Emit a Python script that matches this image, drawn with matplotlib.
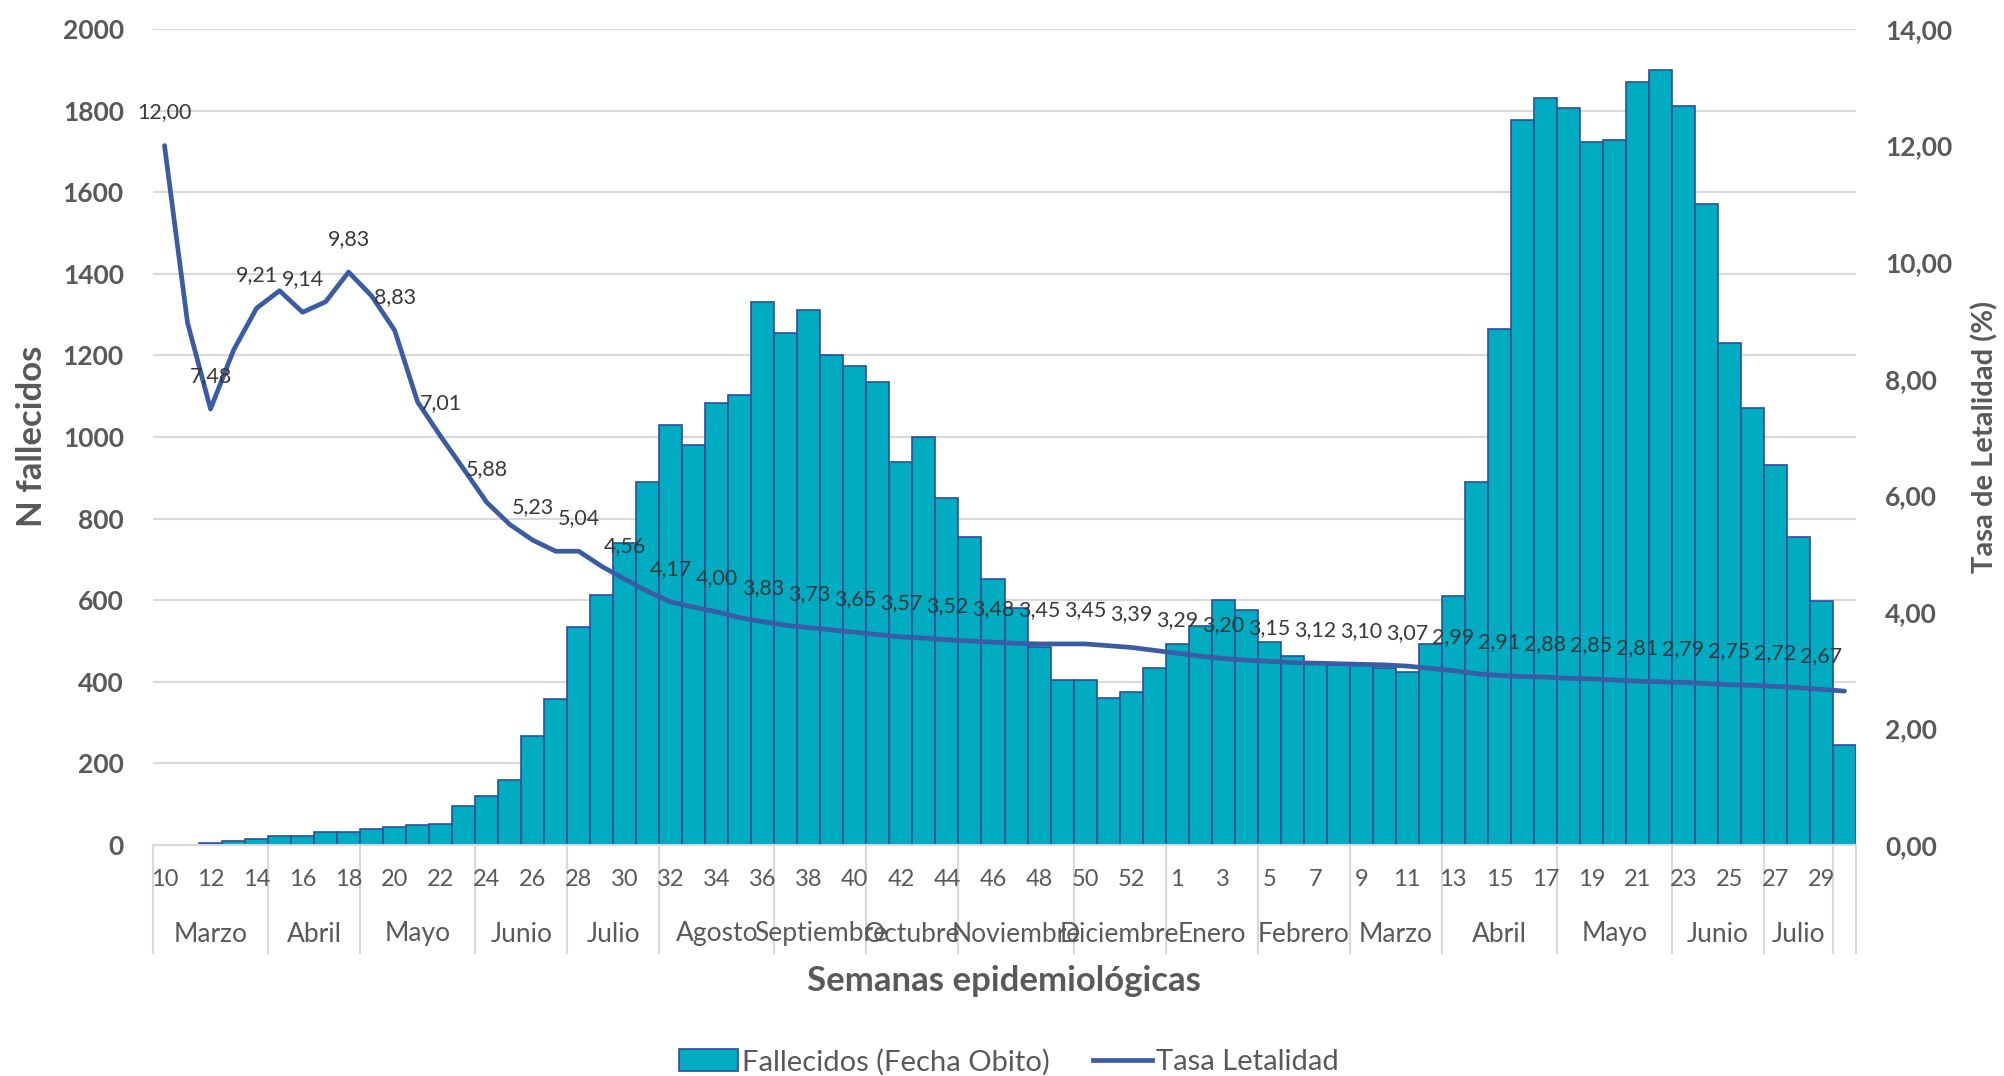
import matplotlib
matplotlib.use("Agg")
import matplotlib.pyplot as plt
from matplotlib.lines import Line2D
from matplotlib.patches import Patch
import numpy as np

plt.rcParams['font.family'] = ['Lato', 'DejaVu Sans']

# ---------------- data ----------------
week_labels = list(range(10, 54)) + list(range(1, 31))

deaths = [0, 0, 4, 9, 14, 23, 23, 32, 32, 38, 43, 48, 52, 96, 121, 160, 267, 359,
          535, 613, 739, 890, 1029, 980, 1083, 1102, 1331, 1255, 1312, 1200, 1175,
          1135, 938, 1000, 850, 755, 653, 580, 486, 404, 404, 361, 375, 434,
          492, 537, 600, 575, 497, 463, 447, 440, 440, 435, 423, 492, 610, 890,
          1264, 1777, 1830, 1806, 1722, 1728, 1870, 1900, 1811, 1571, 1230, 1072,
          931, 755, 598, 246]

rate = [12.00, 8.96, 7.48, 8.49, 9.21, 9.51, 9.14, 9.32, 9.83, 9.42, 8.83, 7.60,
        7.01, 6.45, 5.88, 5.50, 5.23, 5.04, 5.04, 4.78, 4.56, 4.35, 4.17, 4.08,
        4.00, 3.90, 3.83, 3.77, 3.73, 3.69, 3.65, 3.61, 3.57, 3.55, 3.52, 3.50,
        3.48, 3.46, 3.45, 3.45, 3.45, 3.42, 3.39, 3.34,
        3.29, 3.24, 3.20, 3.17, 3.15, 3.13, 3.12, 3.11, 3.10, 3.09, 3.07, 3.03,
        2.99, 2.94, 2.91, 2.89, 2.88, 2.86, 2.85, 2.83, 2.81, 2.80, 2.79, 2.77,
        2.75, 2.74, 2.72, 2.70, 2.67, 2.64]

months = ['Marzo', 'Abril', 'Mayo', 'Junio', 'Julio', 'Agosto', 'Septiembre',
          'Octubre', 'Noviembre', 'Diciembre', 'Enero', 'Febrero', 'Marzo',
          'Abril', 'Mayo', 'Junio', 'Julio', '']
month_weeks = [5, 4, 5, 4, 4, 5, 4, 4, 5, 4, 4, 4, 4, 5, 5, 4, 3, 1]

left_ticks = list(range(0, 2001, 200))
right_ticks = [0, 2, 4, 6, 8, 10, 12, 14]

# ---------------- styling ----------------
W, H = 2004, 1076
BAR = '#00ACC1'
EDGE = '#2F4D9B'
LINE = '#3B5BA5'
GRID = '#D9D9D9'
TXT = '#595959'
LBL = '#383838'

fig = plt.figure(figsize=(W / 100, H / 100), dpi=100)
L, R, T, B = 153, 1856, 29, 845
ax = fig.add_axes([L / W, 1 - B / H, (R - L) / W, (B - T) / H])

n = len(deaths)
x = np.arange(n) + 0.5
ax.bar(x, deaths, width=1.0, color=BAR, edgecolor=EDGE, linewidth=1.2, zorder=2)
ax.set_xlim(0, n)
ax.set_ylim(0, 2000)
ax.set_yticks(left_ticks)
ax.set_yticklabels([str(v) for v in left_ticks], fontsize=19, fontweight='bold', color=TXT)
ax.tick_params(axis='y', length=0, pad=21)
ax.yaxis.grid(True, color=GRID, linewidth=1.5, zorder=0)
ax.set_axisbelow(True)
ax.set_xticks([])
for s in ['top', 'right', 'left']:
    ax.spines[s].set_visible(False)
ax.spines['bottom'].set_color(GRID)
ax.spines['bottom'].set_linewidth(1.5)

fig.text(32 / W, 1 - 436 / H, 'N fallecidos', rotation=90, ha='center', va='center',
         fontsize=25, fontweight='bold', color=TXT)
fig.text(1985 / W, 1 - 437 / H, 'Tasa de Letalidad (%)', rotation=90, ha='center',
         va='center', fontsize=21, fontweight='bold', color=TXT)

# x labels: weeks (every second), months with separators
trans = ax.get_xaxis_transform()
yw = -(880 - B) / (B - T)
ym = -(934 - B) / (B - T)
ysep = -(953 - B) / (B - T)
for i in range(0, n, 2):
    ax.text(i + 0.5, yw, str(week_labels[i]), transform=trans, ha='center', va='center',
            fontsize=17, color=TXT)
pos = 0
bounds = [0]
for m, c in zip(months, month_weeks):
    ax.text(pos + c / 2, ym, m, transform=trans, ha='center', va='center', fontsize=19, color=TXT)
    pos += c
    bounds.append(pos)
for bx in bounds:
    ax.add_line(Line2D([bx, bx], [0, ysep], transform=trans, color=GRID, linewidth=1.5,
                       clip_on=False))

fig.text(1004 / W, 1 - 981 / H, 'Semanas epidemiológicas', ha='center', va='center',
         fontsize=25, fontweight='bold', color=TXT)

# secondary axis
ax2 = ax.twinx()
ax2.set_ylim(0, 14)
ax2.set_yticks(right_ticks)
ax2.set_yticklabels([f"{v:.2f}".replace('.', ',') for v in right_ticks], fontsize=19,
                    fontweight='bold', color=TXT)
ax2.tick_params(axis='y', length=0, pad=21)
for s in ax2.spines.values():
    s.set_visible(False)
ax2.plot(x, rate, color=LINE, linewidth=3.4, solid_capstyle='round', zorder=3)

for i in range(0, n, 2):
    ax2.annotate(f"{rate[i]:.2f}".replace('.', ','), (x[i], rate[i]), xytext=(0, 24),
                 textcoords='offset points', ha='center', va='center', fontsize=15.5,
                 color=LBL, zorder=4)

handles = [Patch(facecolor=BAR, edgecolor=EDGE, linewidth=1.2),
           Line2D([0], [0], color=LINE, linewidth=3.4)]
fig.legend(handles, ['Fallecidos (Fecha Obito)', 'Tasa Letalidad'], loc='center',
           bbox_to_anchor=(1009 / W, 1 - 1062 / H), ncol=2, frameon=False, fontsize=21,
           labelcolor=TXT, handlelength=2.0, handleheight=0.8, handletextpad=0.15,
           columnspacing=1.5)

fig.savefig('out.png', dpi=100)
